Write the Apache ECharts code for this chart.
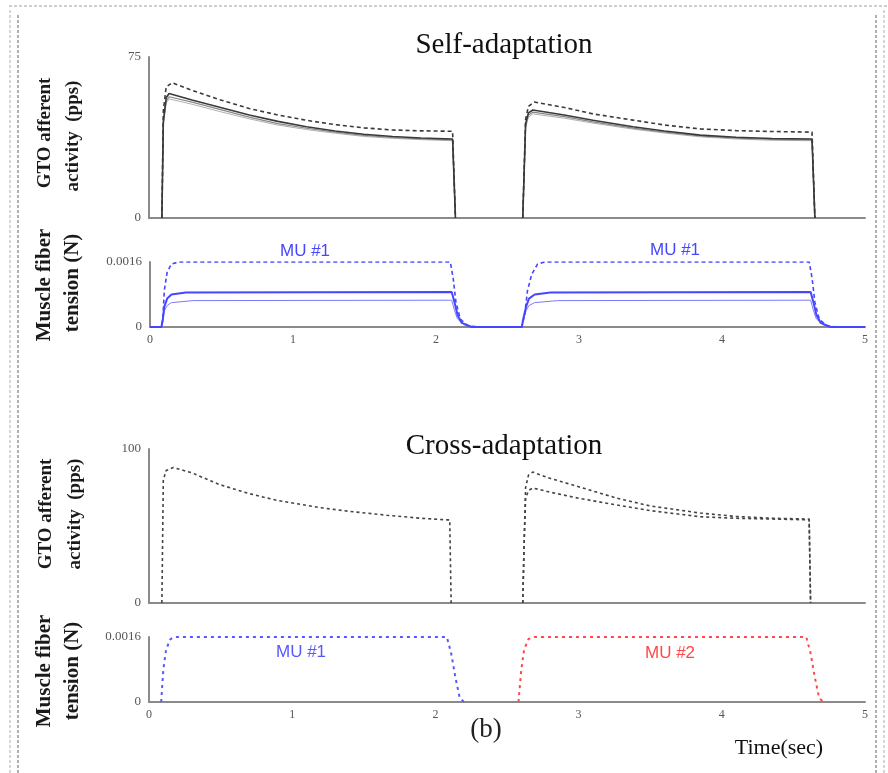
<!DOCTYPE html>
<html>
<head>
<meta charset="utf-8">
<script src="https://cdn.jsdelivr.net/npm/echarts@6/dist/echarts.min.js"></script>
<style>
html,body{margin:0;padding:0;background:#fff;}
#chart{width:888px;height:773px;}
</style>
</head>
<body>
<div id="chart"></div>
<script>
// ---------- data (time in sec, value) ----------
const xTicks = [0, 1, 2, 3, 4, 5];
const titles = ['Self-adaptation', 'Cross-adaptation'];
const gtoYMax = [75, 100];
const tensionYMax = 0.0016;

// Panel 1: Self-adaptation GTO afferent activity (pps)
const selfGtoDashed1 = [[0.09,0],[0.10,50],[0.12,61],[0.16,63],[0.3,59.5],[0.5,55],[0.7,51],[0.9,48],[1.1,45.5],[1.3,43.5],[1.5,42],[1.7,41],[1.9,40.6],[2.12,40.4],[2.14,0]];
const selfGtoDashed2 = [[2.61,0],[2.63,46],[2.65,52],[2.69,54],[2.9,51.5],[3.1,48.5],[3.38,45.6],[3.6,43.3],[3.85,41.5],[4.1,40.7],[4.35,40.3],[4.63,40],[4.65,0]];
const selfGtoSolid1 = [[0.09,0],[0.10,45],[0.12,56],[0.14,58],[0.3,55],[0.5,51.5],[0.7,48],[0.9,45],[1.1,42.5],[1.3,40.5],[1.5,39],[1.7,38],[1.9,37.3],[2.12,36.8],[2.14,0]];
const selfGtoSolid2 = [[2.61,0],[2.63,44],[2.65,49],[2.68,50.3],[2.9,48],[3.1,45.5],[3.38,42.5],[3.6,40.5],[3.85,38.6],[4.1,37.6],[4.35,37],[4.63,36.8],[4.65,0]];
const selfGtoGrey1 = [[0.09,0],[0.10,44],[0.12,54.5],[0.14,56.5],[0.3,54],[0.5,50.5],[0.7,47],[0.9,44],[1.1,41.8],[1.3,40],[1.5,38.5],[1.7,37.5],[1.9,36.9],[2.12,36.4],[2.14,0]];
const selfGtoGrey2 = [[2.61,0],[2.63,43],[2.65,48],[2.68,49.3],[2.9,47.2],[3.1,44.8],[3.38,41.9],[3.6,40],[3.85,38.2],[4.1,37.2],[4.35,36.6],[4.63,36.4],[4.65,0]];
const selfGtoLight1 = [[0.09,0],[0.10,43],[0.12,53.5],[0.14,55.5],[0.3,53],[0.5,49.5],[0.7,46.2],[0.9,43.3],[1.1,41.2],[1.3,39.5],[1.5,38],[1.7,37.1],[1.9,36.5],[2.12,36],[2.14,0]];
const selfGtoLight2 = [[2.61,0],[2.63,42],[2.65,47],[2.68,48.5],[2.9,46.5],[3.1,44.2],[3.38,41.4],[3.6,39.6],[3.85,37.8],[4.1,36.8],[4.35,36.2],[4.63,36],[4.65,0]];

// Panel 2: Self-adaptation muscle fiber tension (N), MU #1
const selfTensionDashed = [[0,0],[0.08,0],[0.09,0.0002],[0.10,0.0009],[0.12,0.00135],[0.15,0.00155],[0.2,0.0016],[2.1,0.0016],[2.12,0.0012],[2.14,0.0006],[2.17,0.0002],[2.22,0.00003],[2.3,0],[2.6,0],[2.62,0.0003],[2.64,0.0009],[2.67,0.0013],[2.71,0.00155],[2.76,0.0016],[4.61,0.0016],[4.63,0.0012],[4.65,0.0006],[4.68,0.0002],[4.73,0.00003],[4.8,0],[5,0]];
const selfTensionSolid = [[0,0],[0.08,0],[0.09,0.0002],[0.10,0.0005],[0.12,0.0007],[0.15,0.0008],[0.25,0.00085],[2.11,0.00086],[2.13,0.0006],[2.15,0.0003],[2.18,0.0001],[2.25,0],[2.6,0],[2.61,0.0002],[2.63,0.0005],[2.65,0.0007],[2.69,0.0008],[2.8,0.00085],[4.62,0.00086],[4.64,0.0006],[4.66,0.0003],[4.69,0.0001],[4.76,0],[5,0]];
const selfTensionThin = [[0,0],[0.08,0],[0.09,0.00015],[0.10,0.0004],[0.12,0.00053],[0.15,0.0006],[0.3,0.00065],[2.11,0.00066],[2.13,0.0004],[2.15,0.0002],[2.2,0.00005],[2.25,0],[2.6,0],[2.61,0.00015],[2.63,0.0004],[2.65,0.00053],[2.69,0.0006],[2.85,0.00065],[4.62,0.00066],[4.64,0.0004],[4.66,0.0002],[4.71,0.00005],[4.76,0],[5,0]];

// Panel 3: Cross-adaptation GTO afferent activity (pps)
const crossGto1 = [[0.09,0],[0.095,40],[0.10,80],[0.12,86],[0.17,88],[0.3,84.5],[0.49,77],[0.7,71],[0.9,66.5],[1.19,62],[1.4,59.5],[1.66,57],[1.9,55],[2.08,54],[2.1,54],[2.11,0]];
const crossGto2Upper = [[2.61,0],[2.62,40],[2.63,75],[2.65,83],[2.68,85],[2.8,81],[3.0,75.5],[3.27,68],[3.5,63],[3.85,58.4],[4.1,56.2],[4.35,55],[4.61,54.5],[4.62,0]];
const crossGto2Lower = [[2.61,0],[2.62,40],[2.63,68],[2.65,73],[2.68,74.7],[2.8,72],[3.0,68],[3.27,63.6],[3.5,60],[3.85,56],[4.1,55],[4.35,54.5],[4.61,54],[4.62,0]];

// Panel 4: Cross-adaptation muscle fiber tension (N)
const crossTensionMU1 = [[0.085,0],[0.10,0.0008],[0.12,0.0013],[0.15,0.00155],[0.18,0.0016],[2.08,0.0016],[2.11,0.0012],[2.14,0.0006],[2.17,0.0001],[2.2,0]];
const crossTensionMU2 = [[2.58,0],[2.6,0.0008],[2.62,0.0013],[2.65,0.00155],[2.69,0.0016],[4.59,0.0016],[4.62,0.0012],[4.65,0.0006],[4.68,0.0001],[4.71,0]];

const muLabels = ['MU #1', 'MU #1', 'MU #1', 'MU #2'];

// ---------- chart ----------
const SERIF = '"Liberation Serif", "Times New Roman", serif';
const SANS = '"Liberation Sans", Arial, sans-serif';
const chart = echarts.init(document.getElementById('chart'), null, {renderer: 'canvas'});

const grids = [
  {left: 149, right: 23, top: 57, height: 161},
  {left: 150, right: 23, top: 262, height: 65},
  {left: 149, right: 23, top: 449, height: 154},
  {left: 149, right: 23, top: 637, height: 65}
];

const axisLine = {show: true, lineStyle: {color: '#8a8a8a', width: 2}};
const xAxes = grids.map((g, i) => ({
  type: 'value', gridIndex: i, min: xTicks[0], max: xTicks[xTicks.length - 1], interval: 1,
  axisLine: axisLine, axisTick: {show: false}, splitLine: {show: false},
  axisLabel: {show: i === 1 || i === 3, margin: 7, color: '#555', fontFamily: SERIF, fontSize: 12}
}));
const yMaxes = [gtoYMax[0], tensionYMax, gtoYMax[1], tensionYMax];
const yAxes = grids.map((g, i) => ({
  type: 'value', gridIndex: i, min: 0, max: yMaxes[i], interval: yMaxes[i],
  axisLine: axisLine, axisTick: {show: false}, splitLine: {show: false},
  axisLabel: {margin: 8, color: '#555', fontFamily: SERIF, fontSize: 13,
    formatter: v => (i % 2 === 1 && v > 0) ? '0.0016' : String(v)}
}));

function line(data, idx, color, width, type, z) {
  return {type: 'line', xAxisIndex: idx, yAxisIndex: idx, data: data, showSymbol: false, symbol: 'none',
    smooth: false, animation: false, z: z || 2,
    lineStyle: {color: color, width: width, type: type}};
}
const GREYDASH = [4, 3];
const BLUE = '#4646ff';
const series = [
  line(selfGtoLight1, 0, '#b0b0b0', 1, 'solid'),
  line(selfGtoLight2, 0, '#b0b0b0', 1, 'solid'),
  line(selfGtoGrey1, 0, '#888', 1.2, 'solid'),
  line(selfGtoGrey2, 0, '#888', 1.2, 'solid'),
  line(selfGtoSolid1, 0, '#3a3a3a', 1.6, 'solid', 3),
  line(selfGtoSolid2, 0, '#3a3a3a', 1.6, 'solid', 3),
  line(selfGtoDashed1, 0, '#3a3a3a', 1.6, GREYDASH, 3),
  line(selfGtoDashed2, 0, '#3a3a3a', 1.6, GREYDASH, 3),
  line(selfTensionThin, 1, '#7a7aff', 1, 'solid'),
  line(selfTensionSolid, 1, BLUE, 2, 'solid', 3),
  line(selfTensionDashed, 1, BLUE, 1.6, [4, 3], 3),
  line(crossGto1, 2, '#444', 1.6, [3, 3]),
  line(crossGto2Upper, 2, '#444', 1.6, [3, 3]),
  line(crossGto2Lower, 2, '#444', 1.6, [3, 3]),
  line(crossTensionMU1, 3, '#5858ff', 2, [3, 4]),
  line(crossTensionMU2, 3, '#ff4848', 2, [3, 4])
];

function vtext(x, y, text, size) {
  return {type: 'text', x: x, y: y, rotation: Math.PI / 2, silent: true,
    style: {text: text, font: 'bold ' + size + 'px ' + SERIF, fill: '#1a1a1a',
      align: 'center', verticalAlign: 'middle', textAlign: 'center', textVerticalAlign: 'middle'}};
}
function htext(x, y, text, font, fill) {
  return {type: 'text', x: x, y: y, silent: true,
    style: {text: text, font: font, fill: fill,
      align: 'center', verticalAlign: 'middle', textAlign: 'center', textVerticalAlign: 'middle'}};
}
function bline(x1, y1, x2, y2, color, w) {
  return {type: 'line', silent: true, shape: {x1: x1, y1: y1, x2: x2, y2: y2},
    style: {stroke: color, lineWidth: w, lineDash: [3, 2]}};
}

const graphic = [
  bline(9, 6, 888, 6, '#cfcfcf', 2),
  bline(10, 10, 10, 773, '#d6d6d6', 2),
  bline(18, 15, 18, 773, '#b0b0b0', 2),
  bline(876, 15, 876, 773, '#b0b0b0', 2),
  bline(884, 10, 884, 773, '#d6d6d6', 2),
  htext(504, 45, titles[0], '29px ' + SERIF, '#111'),
  htext(504, 446, titles[1], '29px ' + SERIF, '#111'),
  vtext(45, 133, 'GTO afferent', 19),
  vtext(73, 136, 'activity  (pps)', 19),
  vtext(45, 285, 'Muscle fiber', 21),
  vtext(73, 283, 'tension (N)', 21),
  vtext(46, 514, 'GTO afferent', 19),
  vtext(75, 514, 'activity  (pps)', 19),
  vtext(45, 671, 'Muscle fiber', 21),
  vtext(73, 671, 'tension (N)', 21),
  htext(305, 251, muLabels[0], '17px ' + SANS, BLUE),
  htext(675, 250, muLabels[1], '17px ' + SANS, BLUE),
  htext(301, 652, muLabels[2], '17px ' + SANS, '#5858ff'),
  htext(670, 653, muLabels[3], '17px ' + SANS, '#ff4848'),
  htext(486, 730, '(b)', '27px ' + SERIF, '#222'),
  htext(779, 748, 'Time(sec)', '22px ' + SERIF, '#111')
];

chart.setOption({
  backgroundColor: '#fff',
  animation: false,
  grid: grids,
  xAxis: xAxes,
  yAxis: yAxes,
  series: series,
  graphic: graphic
});
</script>
</body>
</html>
